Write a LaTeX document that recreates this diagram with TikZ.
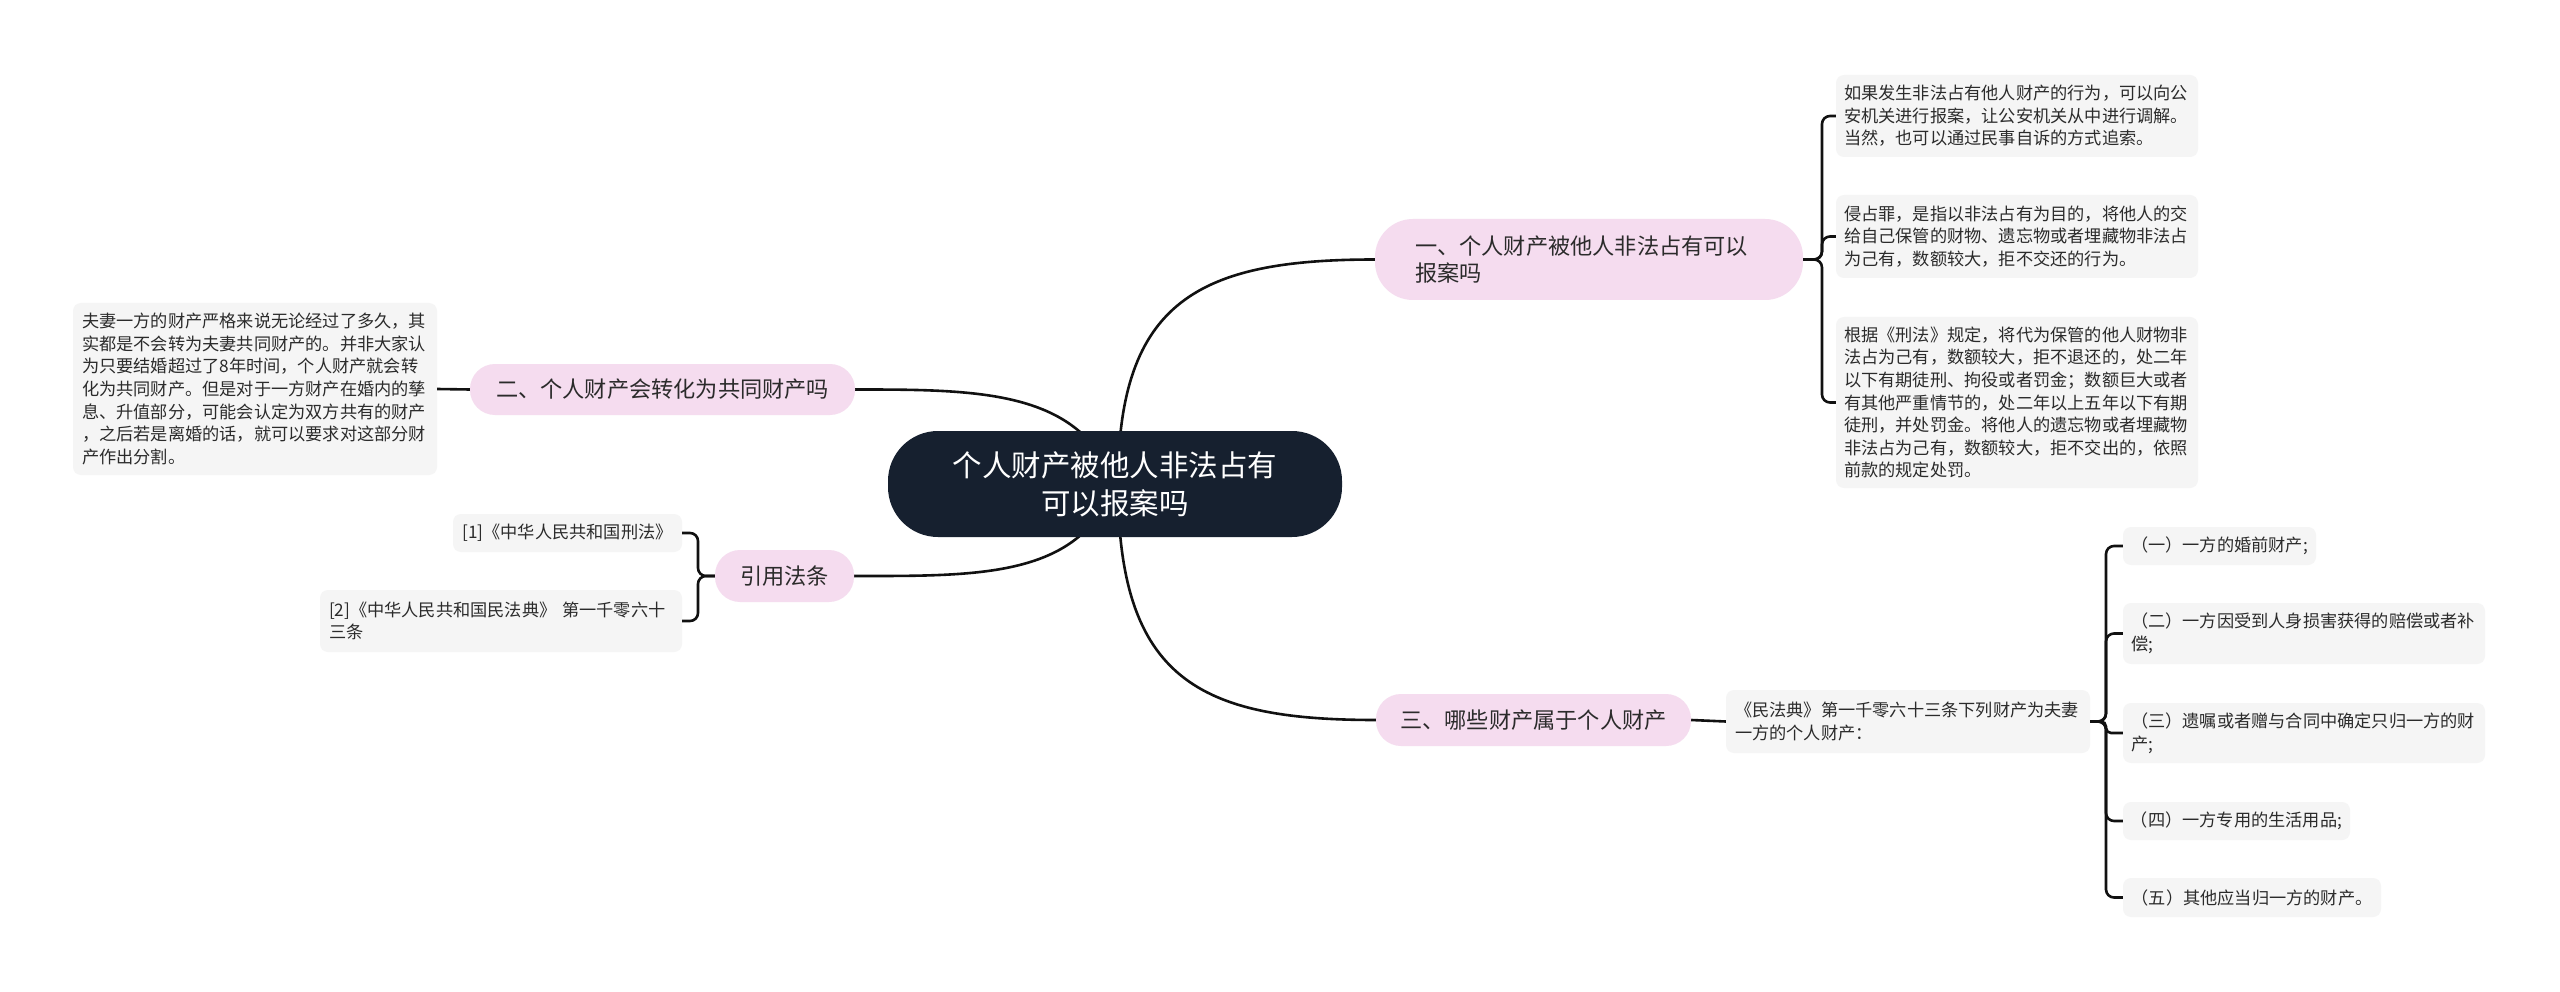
\documentclass[tikz,border=0pt]{standalone}
\usepackage{fontspec}
\setmainfont{Noto Sans CJK SC}
\usetikzlibrary{calc}
\pgfdeclarelayer{bg}
\pgfsetlayers{bg,main}
\definecolor{navy}{HTML}{16202F}
\definecolor{pinkf}{HTML}{F5DCEF}
\definecolor{leaff}{HTML}{F5F5F5}
\definecolor{ink}{HTML}{2B2B2B}
\definecolor{linec}{HTML}{111111}
\begin{document}
\begin{tikzpicture}[x=1pt,y=-1pt,
  conn/.style={line width=2.6pt, draw=linec},
  brk/.style={conn, rounded corners=8pt},
  centernode/.style={fill=navy, text=white, rounded corners=50pt, minimum width=454pt, minimum height=106pt, align=center, inner sep=0pt, font=\fontsize{29.5}{38}\selectfont},
  topic/.style={fill=pinkf, text=ink, inner sep=0pt, font=\fontsize{22.2}{27}\selectfont},
  leaf/.style={fill=leaff, text=ink, rounded corners=8pt, inner sep=0pt, align=left, font=\fontsize{17.2}{22.6}\selectfont},
]
\useasboundingbox (0,0) rectangle (2560,992);

% centre
\node[centernode] (c) at (1115,484) {个人财产被他人非法占有\\可以报案吗};

% topics
\node[topic, rounded corners=38pt, minimum width=428pt, minimum height=81pt, text width=348pt, align=left] (t1) at (1589,259.5) {一、个人财产被他人非法占有可以\\报案吗};
\node[topic, rounded corners=25pt, minimum width=385pt, minimum height=51pt] (t2) at (662.5,389.5) {二、个人财产会转化为共同财产吗};
\node[topic, rounded corners=25pt, minimum width=139pt, minimum height=52pt] (t3) at (784.5,576) {引用法条};
\node[topic, rounded corners=25pt, minimum width=315pt, minimum height=52pt] (t4) at (1533.5,720) {三、哪些财产属于个人财产};

% right leaves of topic 1
\node[leaf, minimum width=362pt, minimum height=82pt, text width=346pt] (l1) at (2017,116) {如果发生非法占有他人财产的行为，可以向公\\安机关进行报案，让公安机关从中进行调解。\\当然，也可以通过民事自诉的方式追索。};
\node[leaf, minimum width=362pt, minimum height=83pt, text width=346pt] (l2) at (2017,236.5) {侵占罪，是指以非法占有为目的，将他人的交\\给自己保管的财物、遗忘物或者埋藏物非法占\\为己有，数额较大，拒不交还的行为。};
\node[leaf, minimum width=362pt, minimum height=171pt, text width=346pt] (l3) at (2017,402.5) {根据《刑法》规定，将代为保管的他人财物非\\法占为己有，数额较大，拒不退还的，处二年\\以下有期徒刑、拘役或者罚金；数额巨大或者\\有其他严重情节的，处二年以上五年以下有期\\徒刑，并处罚金。将他人的遗忘物或者埋藏物\\非法占为己有，数额较大，拒不交出的，依照\\前款的规定处罚。};

% left leaf of topic 2
\node[leaf, minimum width=364pt, minimum height=172pt, text width=346pt] (ll) at (255,389) {夫妻一方的财产严格来说无论经过了多久，其\\实都是不会转为夫妻共同财产的。并非大家认\\为只要结婚超过了8年时间，个人财产就会转\\化为共同财产。但是对于一方财产在婚内的孳\\息、升值部分，可能会认定为双方共有的财产\\，之后若是离婚的话，就可以要求对这部分财\\产作出分割。};

% references
\node[leaf, minimum width=229pt, minimum height=38pt] (r1) at (567.5,533) {[1]《中华人民共和国刑法》};
\node[leaf, minimum width=362pt, minimum height=62pt, text width=344pt] (r2) at (501,621) {[2]《中华人民共和国民法典》 第一千零六十\\三条};

% topic 3 leaves
\node[leaf, minimum width=364pt, minimum height=63pt, text width=346pt] (lw) at (1908,721.5) {《民法典》第一千零六十三条下列财产为夫妻\\一方的个人财产：};
\node[leaf, minimum width=193pt, minimum height=38pt] (i1) at (2219.5,546) {（一）一方的婚前财产;};
\node[leaf, minimum width=362pt, minimum height=61pt, text width=346pt] (i2) at (2304,633.5) {（二）一方因受到人身损害获得的赔偿或者补\\偿;};
\node[leaf, minimum width=362pt, minimum height=60pt, text width=346pt] (i3) at (2304,733) {（三）遗嘱或者赠与合同中确定只归一方的财\\产;};
\node[leaf, minimum width=227pt, minimum height=38pt] (i4) at (2236.5,821) {（四）一方专用的生活用品;};
\node[leaf, minimum width=258pt, minimum height=39pt] (i5) at (2252,897.5) {（五）其他应当归一方的财产。};

% junctions
\coordinate (j1) at (1822,259.5);
\coordinate (j3) at (698,576);
\coordinate (j4) at (2106,721.5);

\begin{pgfonlayer}{bg}
\fill[white] (0,0) rectangle (2560,992);
\draw[conn] ($(c.center)+(3,0)$) .. controls (1118,300) and (1200,259.5) .. (t1.west);
\draw[conn] ($(c.center)+(3,0)$) .. controls (1118,680) and (1200,720) .. (t4.west);
\draw[conn] (c.center) .. controls (1080,390) and (980,389.5) .. (t2.east);
\draw[conn] (c.center) .. controls (1080,578) and (980,576) .. (t3.east);
\end{pgfonlayer}

\draw[brk] (t1.east) -- (j1) |- (l1.west);
\draw[brk] (t1.east) -- (j1) |- (l2.west);
\draw[brk] (t1.east) -- (j1) |- (l3.west);
\draw[conn] (t2.west) -- (ll.east);
\draw[brk] (t3.west) -- (j3) |- (r1.east);
\draw[brk] (t3.west) -- (j3) |- (r2.east);
\draw[conn] (t4.east) -- (lw.west);
\draw[brk] (lw.east) -- (j4) |- (i1.west);
\draw[brk] (lw.east) -- (j4) |- (i2.west);
\draw[conn, rounded corners=5pt] (lw.east) -- (j4) |- (i3.west);
\draw[brk] (lw.east) -- (j4) |- (i4.west);
\draw[brk] (lw.east) -- (j4) |- (i5.west);
\end{tikzpicture}
\end{document}
